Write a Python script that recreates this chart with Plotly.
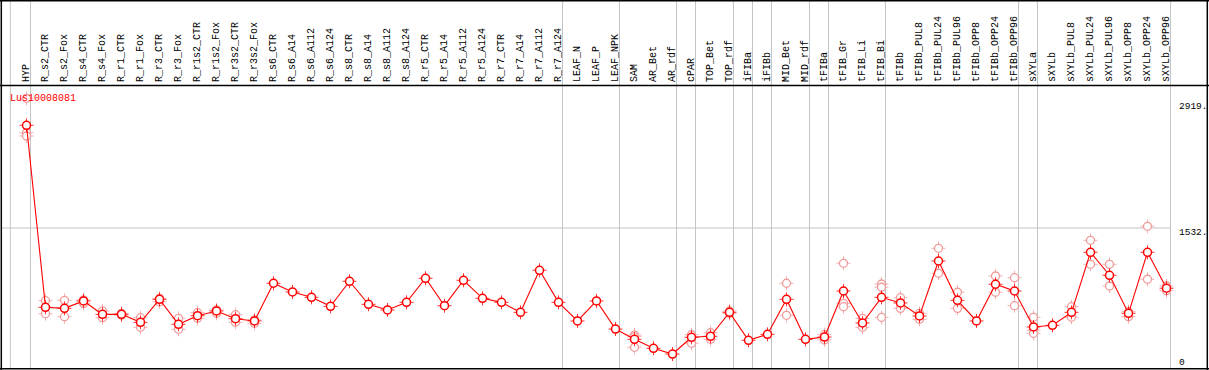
import plotly.graph_objects as go

# ---------------- data ----------------
gene = "Lus10008081"

categories = [
    "HYP", "R_s2_CTR", "R_s2_Fox", "R_s4_CTR", "R_s4_Fox", "R_r1_CTR", "R_r1_Fox",
    "R_r3_CTR", "R_r3_Fox", "R_r1s2_CTR", "R_r1s2_Fox", "R_r3s2_CTR", "R_r3s2_Fox",
    "R_s6_CTR", "R_s6_A14", "R_s6_A112", "R_s6_A124", "R_s8_CTR", "R_s8_A14",
    "R_s8_A112", "R_s8_A124", "R_r5_CTR", "R_r5_A14", "R_r5_A112", "R_r5_A124",
    "R_r7_CTR", "R_r7_A14", "R_r7_A112", "R_r7_A124", "LEAF_N", "LEAF_P", "LEAF_NPK",
    "SAM", "AR_Bet", "AR_rdf", "cPAR", "TOP_Bet", "TOP_rdf", "iFIBa", "iFIBb",
    "MID_Bet", "MID_rdf", "tFIBa", "tFIB_Gr", "tFIB_Li", "tFIB_Bi", "tFIBb",
    "tFIBb_PUL8", "tFIBb_PUL24", "tFIBb_PUL96", "tFIBb_OPP8", "tFIBb_OPP24",
    "tFIBb_OPP96", "sXYLa", "sXYLb", "sXYLb_PUL8", "sXYLb_PUL24", "sXYLb_PUL96",
    "sXYLb_OPP8", "sXYLb_OPP24", "sXYLb_OPP96",
]

means = [
    2663, 659, 648, 729, 582, 582, 494, 747, 472, 567, 619, 534, 509,
    924, 828, 769, 670, 946, 692, 630, 714, 979, 677, 957, 758,
    714, 604, 1067, 714, 509, 729, 420,
    307, 208, 145, 329, 340, 604, 296, 362,
    747, 307, 332, 839, 487, 769, 707,
    564, 1169, 736, 509, 913, 839,
    443, 461, 604, 1265, 1012, 593, 1265, 869,
]

replicates = [
    [2960, 2581, 2545], [732, 589], [736, 556], [740, 703], [619, 545], [593, 571],
    [545, 439], [758, 721], [538, 417], [600, 538], [630, 593], [578, 494], [520, 483],
    [], [], [], [], [], [], [], [], [], [], [], [],
    [], [], [], [], [], [], [],
    [354, 219, 336], [], [], [358, 263], [380, 307], [619, 593], [], [],
    [924, 571], [], [358, 299], [1144, 703, 666], [538, 439], [916, 880, 549], [765, 648],
    [593, 527], [1309, 1034], [825, 648], [], [1004, 825], [985, 677],
    [549, 409, 373], [], [666, 549], [1397, 1133], [1133, 894], [611, 556], [1551, 968], [894, 842],
]

# last column index of each column group (grey separators)
group_ends = [0, 28, 31, 34, 35, 37, 38, 39, 41, 42, 45, 52, 53, 60]

y_tick_values = [0, 1532, 2919]
y_tick_labels = ["0", "1532.", "2919."]
y_grid_values = [1532]

# ---------------- layout constants (pixels) ----------------
W, H = 1209, 370
COL0_PX, COL_STEP = 26.5, 19.0
Y0_PX, PX_PER_UNIT = 367.2, 0.09084
HEADER_PX = 85.5
FONT = "Liberation Mono"
RED = "#ff0000"
PALE = "#f19a9a"
GRID = "#c4c4c4"

xmin = -COL0_PX / COL_STEP
xmax = xmin + W / COL_STEP
ymin = -(H - Y0_PX) / PX_PER_UNIT
ymax = Y0_PX / PX_PER_UNIT


def px_x(p):
    return p / W


def px_y(p):
    return 1 - p / H


idx = list(range(len(categories)))

rep_x, rep_y = [], []
for i, reps in enumerate(replicates):
    for v in reps:
        rep_x.append(i)
        rep_y.append(v)

fig = go.Figure()

# replicate markers (pale)
fig.add_trace(go.Scatter(
    x=rep_x, y=rep_y, mode="markers", hoverinfo="skip",
    marker=dict(symbol="cross-thin-open", size=10, color=PALE, line=dict(color=PALE, width=0.8)),
))
fig.add_trace(go.Scatter(
    x=rep_x, y=rep_y, mode="markers", hoverinfo="skip",
    marker=dict(symbol="circle", size=8, color="white",
                line=dict(color=PALE, width=1.3)),
))

# mean line
fig.add_trace(go.Scatter(
    x=idx, y=means, mode="lines", hoverinfo="skip",
    line=dict(color=RED, width=1.1),
))
# mean markers
fig.add_trace(go.Scatter(
    x=idx, y=means, mode="markers", hoverinfo="skip",
    marker=dict(symbol="cross-thin-open", size=10, color=RED, line=dict(color=RED, width=0.8)),
))
fig.add_trace(go.Scatter(
    x=idx, y=means, mode="markers", hoverinfo="skip",
    marker=dict(symbol="circle", size=8, color="white",
                line=dict(color=RED, width=1.5)),
))

shapes = []
# vertical grey group separators
sep_x = [-0.85] + [g + 0.21 for g in group_ends]
for sx in sep_x:
    shapes.append(dict(type="line", xref="x", yref="paper", x0=sx, x1=sx,
                       y0=px_y(368.5), y1=1, line=dict(color=GRID, width=1), layer="below"))
# horizontal grid
for gv in y_grid_values:
    shapes.append(dict(type="line", xref="paper", yref="y", x0=px_x(1), x1=px_x(1170.7),
                       y0=gv, y1=gv, line=dict(color=GRID, width=1), layer="below"))
# black frame + header separator
blk = dict(color="black", width=1.5)
shapes += [
    dict(type="line", xref="paper", yref="paper", x0=0, x1=1, y0=px_y(0.7), y1=px_y(0.7), line=blk),
    dict(type="line", xref="paper", yref="paper", x0=0, x1=1, y0=px_y(HEADER_PX), y1=px_y(HEADER_PX), line=blk),
    dict(type="line", xref="paper", yref="paper", x0=0, x1=1, y0=px_y(368.7), y1=px_y(368.7), line=blk),
    dict(type="line", xref="paper", yref="paper", x0=px_x(1.3), x1=px_x(1.3), y0=0, y1=1, line=blk),
    dict(type="line", xref="paper", yref="paper", x0=px_x(1207.3), x1=px_x(1207.3), y0=0, y1=1, line=blk),
]

annotations = []
for i, c in enumerate(categories):
    annotations.append(dict(
        x=i, xref="x", y=px_y(83.5), yref="paper", text=c, textangle=-90,
        showarrow=False, xanchor="center", yanchor="bottom",
        font=dict(family=FONT, size=10, color="black"), borderpad=0,
    ))

annotations.append(dict(
    x=px_x(9), xref="paper", y=px_y(91.5), yref="paper", text=gene,
    showarrow=False, xanchor="left", yanchor="top",
    font=dict(family=FONT, size=10, color=RED), borderpad=0,
))

for v, t in zip(y_tick_values, y_tick_labels):
    annotations.append(dict(
        x=px_x(1177.5), xref="paper", y=v, yref="y", text=t, showarrow=False,
        xanchor="left", yanchor="bottom" if v == 0 else "top",
        yshift=-2 if v == 0 else 2.5,
        font=dict(family=FONT, size=9.5, color="black"), borderpad=0,
    ))

fig.update_layout(
    width=W, height=H, autosize=False,
    margin=dict(l=0, r=0, t=0, b=0, pad=0),
    paper_bgcolor="white", plot_bgcolor="white",
    showlegend=False,
    xaxis=dict(range=[xmin, xmax], visible=False, fixedrange=True),
    yaxis=dict(range=[ymin, ymax], visible=False, fixedrange=True),
    shapes=shapes, annotations=annotations,
)

fig.write_html(
    "out.html",
    config={"displayModeBar": False},
    post_script="document.body.style.margin='0';document.body.style.overflow='hidden';",
)
